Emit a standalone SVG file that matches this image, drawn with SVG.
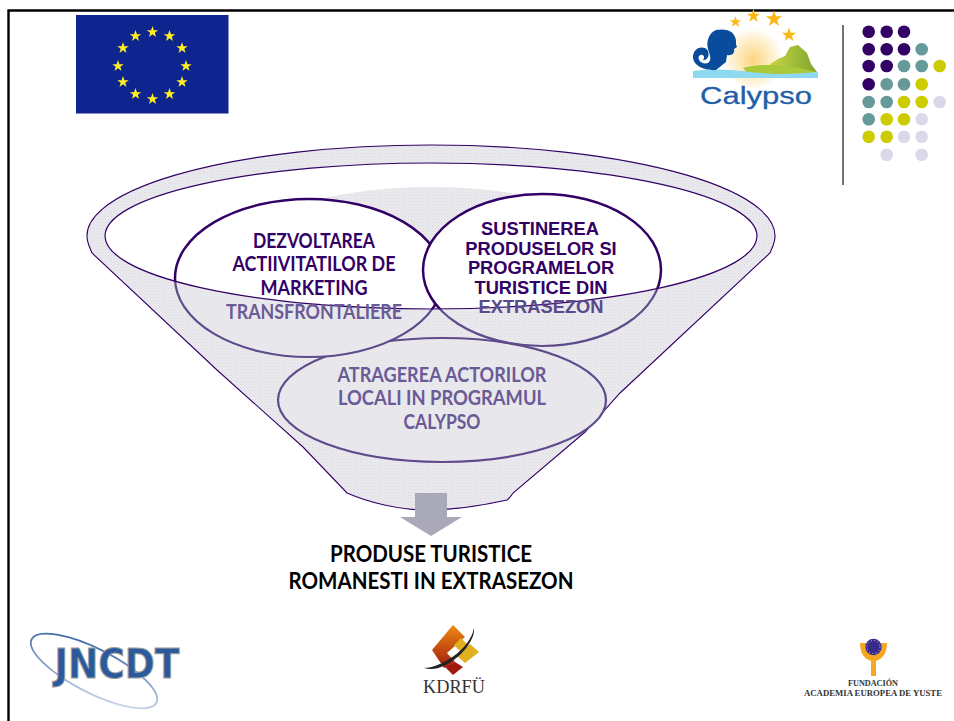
<svg xmlns="http://www.w3.org/2000/svg" width="954" height="721" viewBox="0 0 954 721">
<style>
.dk{fill:#330066;font-family:"Lato","Liberation Sans",sans-serif;font-weight:700;font-size:20px;text-anchor:middle}
.md{fill:#6a5a96;font-family:"Lato","Liberation Sans",sans-serif;font-weight:700;font-size:20px;text-anchor:middle}
.ar{fill:#330066;font-family:"Liberation Sans",Arial,sans-serif;font-weight:700;font-size:18.3px;text-anchor:middle}
.bk{fill:#000;font-family:"Lato","Liberation Sans",sans-serif;font-weight:700;font-size:23px;text-anchor:middle}
.ys{fill:#333;font-family:"Liberation Serif",serif;font-weight:700;font-size:8.2px;text-anchor:middle}
.p{fill:#330066}.t{fill:#669999}.y{fill:#cccc00}.l{fill:#d9d9ea}
</style>
<defs>
<pattern id="dots" width="3" height="3" patternUnits="userSpaceOnUse">
<rect width="3" height="3" fill="#ececf0"/><rect width="1" height="1" fill="#d6d6dc"/><rect x="1.500" y="1.500" width="1" height="1" fill="#d6d6dc"/>
</pattern>
<clipPath id="inIn"><ellipse cx="431" cy="236" rx="326" ry="73"/></clipPath>
<clipPath id="outIn"><path clip-rule="evenodd" d="M0 0H954V721H0Z M105 236A326 73 0 0 0 757 236A326 73 0 0 0 105 236Z"/></clipPath>
<polygon id="s" fill="#ffee22" transform="scale(1.1)" points="0,-5.500 1.300,-1.700 5.200,-1.700 2.100,.65 3.200,4.450 0,2.100 -3.200,4.450 -2.100,.65 -5.200,-1.700 -1.300,-1.700"/>
<polygon id="o" fill="#fdb813" points="0,-1 .24,-.31 .95,-.31 .38,.12 .59,.81 0,.38 -.59,.81 -.38,.12 -.95,-.31 -.24,-.31"/>
<radialGradient id="sun" cx=".5" cy=".55" r=".5"><stop offset="0" stop-color="#fdd582"/><stop offset=".6" stop-color="#feeec8"/><stop offset="1" stop-color="#fff"/></radialGradient>
<linearGradient id="mt" x1="0" y1="0" x2="1" y2="0"><stop offset="0" stop-color="#c8d544"/><stop offset="1" stop-color="#7fa52c"/></linearGradient>
<linearGradient id="sw" x1="0" y1="0" x2="1" y2="1"><stop offset="0" stop-color="#2a5a9c"/><stop offset=".5" stop-color="#7f9cc4"/><stop offset="1" stop-color="#e4ebf5"/></linearGradient>
<linearGradient id="kd" x1="0" y1="0" x2="0" y2="1"><stop offset="0" stop-color="#f08a12"/><stop offset="1" stop-color="#a01a10"/></linearGradient>
</defs>
<rect width="954" height="721" fill="#fff"/>
<path d="M8.500 721V10.500H954" fill="none" stroke="#000" stroke-width="2.400"/>

<g id="eu-flag">
<rect x="76" y="15" width="152.500" height="98.500" fill="#0e2590"/>
<use href="#s" x="152.500" y="32"/><use href="#s" x="169.500" y="36"/><use href="#s" x="182" y="48"/><use href="#s" x="186" y="66"/><use href="#s" x="182" y="82"/><use href="#s" x="169.500" y="94"/><use href="#s" x="152.500" y="99"/><use href="#s" x="135.500" y="94"/><use href="#s" x="123" y="82"/><use href="#s" x="118" y="66"/><use href="#s" x="123" y="48"/><use href="#s" x="135.500" y="36"/>
</g>

<g id="calypso-logo">
<ellipse cx="753" cy="56" rx="30" ry="32" fill="url(#sun)"/>
<use href="#o" transform="translate(735.500 22) scale(6)"/>
<use href="#o" transform="translate(753.500 16) scale(7)"/>
<use href="#o" transform="translate(774 19) scale(8.500)"/>
<use href="#o" transform="translate(789 35) scale(7.500)"/>
<path d="M770 64L778 59L785 56L790 47L798 45L807 53L811 64L817 72H770Z" fill="url(#mt)"/>
<path d="M743 68C760 63 790 64 816 72L800 76H750Z" fill="#a9c83a"/>
<path d="M693 71C715 68 735 70 750 72C775 75 795 74 818 72V78H693Z" fill="#8ed8f0"/>
<path d="M716 30C726 28 733 31 735 37C737 41 735 44 737 47L734 49C735 53 732 56 727 55L726 62L716 70C706 71 693 66 693 57C693 49 700 46 705 48C711 51 709 61 703 60C706 56 702 53 699 56C697 60 702 65 708 63C712 60 710 55 708 49C706 41 709 33 716 30Z" fill="#0a4c9c"/>
<text x="756" y="103.500" font-family="Liberation Sans,Arial,sans-serif" font-size="23.500" fill="#1f5fa8" stroke="#1f5fa8" stroke-width=".3" text-anchor="middle" textLength="112" lengthAdjust="spacingAndGlyphs">Calypso</text>
</g>

<g id="dot-panel">
<line x1="843" y1="25" x2="843" y2="185" stroke="#444" stroke-width="1.500"/>
<g id="dots-group">
<circle class="p" cx="868.700" cy="31.700" r="6.300"/><circle class="p" cx="886.700" cy="31.700" r="6.300"/><circle class="p" cx="904" cy="31.700" r="6.300"/>
<circle class="p" cx="868.700" cy="49.300" r="6.300"/><circle class="p" cx="886.700" cy="49.300" r="6.300"/><circle class="p" cx="904" cy="49.300" r="6.300"/><circle class="t" cx="921.700" cy="49.300" r="6.300"/>
<circle class="p" cx="868.700" cy="66" r="6.300"/><circle class="p" cx="886.700" cy="66" r="6.300"/><circle class="t" cx="904" cy="66" r="6.300"/><circle class="t" cx="921.700" cy="66" r="6.300"/><circle class="y" cx="939.700" cy="66" r="6.300"/>
<circle class="p" cx="868.700" cy="84.300" r="6.300"/><circle class="t" cx="886.700" cy="84.300" r="6.300"/><circle class="t" cx="904" cy="84.300" r="6.300"/><circle class="y" cx="921.700" cy="84.300" r="6.300"/>
<circle class="t" cx="868.700" cy="102" r="6.300"/><circle class="t" cx="886.700" cy="102" r="6.300"/><circle class="y" cx="904" cy="102" r="6.300"/><circle class="y" cx="921.700" cy="102" r="6.300"/><circle class="l" cx="939.700" cy="102" r="6.300"/>
<circle class="t" cx="868.700" cy="119.300" r="6.300"/><circle class="y" cx="886.700" cy="119.300" r="6.300"/><circle class="y" cx="904" cy="119.300" r="6.300"/><circle class="l" cx="921.700" cy="119.300" r="6.300"/>
<circle class="y" cx="868.700" cy="136.700" r="6.300"/><circle class="y" cx="886.700" cy="136.700" r="6.300"/><circle class="l" cx="904" cy="136.700" r="6.300"/><circle class="l" cx="921.700" cy="136.700" r="6.300"/>
<circle class="l" cx="886.700" cy="154.700" r="6.300"/><circle class="l" cx="921.700" cy="154.700" r="6.300"/>
</g>
</g>

<g id="funnel">
<path d="M92 253L88.700 245A344 91 0 1 1 773.300 245L770 253L620 393L585 432L513 493C511 496 509 499 507 500C480 506 450 510 427 510C400 510 370 503 347 493L303 447L217 370Z" fill="url(#dots)" stroke="#330066" stroke-width="1.100"/>
<ellipse cx="431" cy="236" rx="326" ry="73" fill="#fff"/>
<g clip-path="url(#inIn)"><ellipse cx="431" cy="262" rx="205" ry="75" fill="url(#dots)"/></g>
</g>

<g id="node-bottom">
<ellipse cx="442" cy="400" rx="164" ry="62" fill="#e8e8ec" stroke="#5f4b8b" stroke-width="2.200"/>
</g>
<g id="node-left">
<g clip-path="url(#inIn)"><ellipse cx="309" cy="278" rx="134" ry="79" fill="#fff" stroke="#330066" stroke-width="2.500"/></g>
<g clip-path="url(#outIn)"><ellipse cx="309" cy="278" rx="134" ry="79" fill="#e8e8ec" stroke="#5f4b8b" stroke-width="2.200"/></g>
</g>
<g id="node-right">
<g clip-path="url(#inIn)"><ellipse cx="542" cy="270" rx="119" ry="76" fill="#fff" stroke="#330066" stroke-width="2.500"/></g>
<g clip-path="url(#outIn)"><ellipse cx="542" cy="270" rx="119" ry="76" fill="none" stroke="#5f4b8b" stroke-width="2.200"/></g>
</g>
<ellipse id="funnel-rim" cx="431" cy="236" rx="326" ry="73" fill="none" stroke="#330066" stroke-width="1.200"/>

<g id="labels">
<text class="dk" x="314" y="248" textLength="122" lengthAdjust="spacingAndGlyphs">DEZVOLTAREA</text>
<text class="dk" x="314" y="271" textLength="163" lengthAdjust="spacingAndGlyphs">ACTIIVITATILOR  DE</text>
<text class="dk" x="314" y="295" textLength="107" lengthAdjust="spacingAndGlyphs">MARKETING</text>
<text class="md" x="314" y="319" textLength="176" lengthAdjust="spacingAndGlyphs">TRANSFRONTALIERE</text>
<text class="ar" x="540" y="235">SUSTINEREA</text>
<text class="ar" x="541" y="255">PRODUSELOR SI</text>
<text class="ar" x="541" y="274">PROGRAMELOR</text>
<text class="ar" x="541" y="294">TURISTICE DIN</text>
<text class="ar" x="541" y="313" style="fill:#5a4a8a">EXTRASEZON</text>
<text class="md" x="442" y="382" textLength="209" lengthAdjust="spacingAndGlyphs">ATRAGEREA ACTORILOR</text>
<text class="md" x="442" y="405" textLength="208" lengthAdjust="spacingAndGlyphs">LOCALI IN PROGRAMUL</text>
<text class="md" x="442" y="429" textLength="77" lengthAdjust="spacingAndGlyphs">CALYPSO</text>
</g>

<g id="connectors">
<polygon points="415,493 447,493 447,517 462,517 431,536 400,517 415,517" fill="#a9a9b9"/>
</g>

<g id="result">
<text class="bk" x="431" y="562" textLength="202" lengthAdjust="spacingAndGlyphs">PRODUSE TURISTICE</text>
<text class="bk" x="431" y="589" textLength="285" lengthAdjust="spacingAndGlyphs">ROMANESTI IN EXTRASEZON</text>
</g>

<g id="incdt-logo">
<ellipse cx="94" cy="671" rx="70" ry="22" transform="rotate(27 94 671)" fill="none" stroke="url(#sw)" stroke-width="1.800"/>
<text x="117" y="678" font-family="DejaVu Sans,sans-serif" font-weight="700" font-size="41" fill="#2a5a9c" stroke="#a0a0a0" stroke-width="1" text-anchor="middle" textLength="125" lengthAdjust="spacingAndGlyphs">JNCDT</text>
</g>

<g id="kdrfu-logo">
<path d="M453 625L465 637L447 653L455 662L444 668L432 650Z" fill="url(#kd)"/>
<polygon points="455,662 463,667 453,675 445,667" fill="#a01a10"/>
<path d="M461 638L467 644L460 651L454 645Z M470 644L479 652L465 663L457 656Z" fill="#e0b020"/>
<path d="M424 668C440 668 470 650 474 628C476 645 445 675 424 668Z" fill="#222"/>
<text x="454" y="693" font-family="Liberation Serif,serif" font-size="19" fill="#333" text-anchor="middle" textLength="62" lengthAdjust="spacingAndGlyphs">KDRFÜ</text>
</g>

<g id="yuste-logo">
<path d="M860 643H866C866 656 881 656 881 643H887C887 654 882 659 876 661V676H871V661C865 659 860 654 860 643Z" fill="#f7a823"/>
<circle cx="873.500" cy="647" r="8.200" fill="#3a2a8c"/>
<circle cx="873.500" cy="647" r="6.500" fill="none" stroke="#cfc8e8" stroke-width="1" stroke-dasharray="1 2.400"/>
<text class="ys" x="873" y="686">FUNDACIÓN</text>
<text class="ys" x="873" y="696" textLength="138" lengthAdjust="spacingAndGlyphs">ACADEMIA EUROPEA DE YUSTE</text>
</g>
</svg>
